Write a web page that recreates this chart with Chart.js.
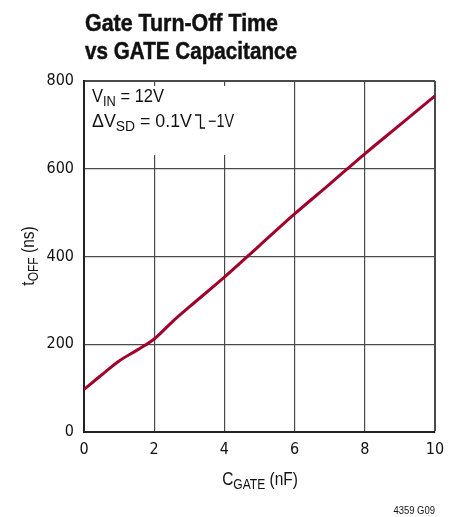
<!DOCTYPE html>
<html>
<head>
<meta charset="utf-8">
<script src="https://cdn.jsdelivr.net/npm/chart.js@4"></script>
<style>
  html, body { margin: 0; padding: 0; background: #fff; }
</style>
</head>
<body>
<canvas id="chart_div" width="460" height="517"></canvas>
<script>
  const TICKFONT = '"DejaVu Sans Condensed", "Liberation Sans", sans-serif';
  const FONT = '"Liberation Sans", Arial, sans-serif';
  const SX = 0.86; // horizontal squeeze to imitate a condensed face

  // gate capacitance (nF) and turn-off time (ns)
  const cGate = [0, 0.5, 1, 1.5, 2, 2.5, 3, 4, 5, 6, 7, 8, 9, 10];
  const tOff = [97, 130, 162, 186, 212, 250, 285, 353, 425, 497, 565, 634, 700, 766];
  const xTicks = [0, 2, 4, 6, 8, 10];
  const yTicks = [0, 200, 400, 600, 800];

  const points = cGate.map((c, i) => ({ x: c, y: tOff[i] }));

  // width of runs [text, size, dy, bold] before squeezing
  function runsWidth(ctx, parts) {
    let w = 0;
    parts.forEach(p => {
      ctx.font = (p[3] ? 'bold ' : '') + p[1] + 'px ' + FONT;
      w += ctx.measureText(p[0]).width;
    });
    return w;
  }

  // draw runs squeezed by sx, returns end x
  function runs(ctx, x, y, parts, sx, heavy) {
    sx = sx || SX;
    ctx.save();
    ctx.translate(x, y);
    ctx.scale(sx, 1);
    let cx = 0;
    parts.forEach(p => {
      ctx.font = (p[3] ? 'bold ' : '') + p[1] + 'px ' + FONT;
      ctx.fillText(p[0], cx, p[2] || 0);
      if (heavy) {
        ctx.lineWidth = heavy;
        ctx.strokeStyle = ctx.fillStyle;
        ctx.strokeText(p[0], cx, p[2] || 0);
      }
      cx += ctx.measureText(p[0]).width;
    });
    ctx.restore();
    return x + cx * sx;
  }

  const textPlugin = {
    id: 'texts',
    beforeDatasetsDraw(chart) {
      const ctx = chart.ctx;
      const a = chart.chartArea;
      // blank the grid behind the condition box
      ctx.save();
      ctx.fillStyle = '#fff';
      ctx.fillRect(a.left + 3, a.top + 5, 170, 69);
      ctx.restore();
    },
    afterDraw(chart) {
      const ctx = chart.ctx;
      ctx.save();
      ctx.fillStyle = '#111';
      ctx.textBaseline = 'alphabetic';
      ctx.textAlign = 'left';

      // title
      const t1 = [['Gate Turn-Off Time', 24, 0, true]];
      const t2 = [['vs GATE Capacitance', 24, 0, true]];
      runs(ctx, 85, 31, t1, 193 / runsWidth(ctx, t1), 0.5);
      runs(ctx, 85, 59, t2, 212 / runsWidth(ctx, t2), 0.5);

      // condition box
      const c1 = [['V', 18], ['IN', 14, 4], [' = 12V', 18]];
      const c2 = [['ΔV', 18], ['SD', 14, 4], [' = 0.1V', 18]];
      runs(ctx, 92, 102, c1, 72 / runsWidth(ctx, c1));
      const e = runs(ctx, 92, 127, c2, 100 / runsWidth(ctx, c2));
      ctx.strokeStyle = '#111';
      ctx.lineWidth = 1.3;
      ctx.beginPath();
      ctx.moveTo(e + 3, 115);
      ctx.lineTo(e + 8.5, 115);
      ctx.lineTo(e + 8.5, 128);
      ctx.lineTo(e + 13, 128);
      ctx.stroke();
      runs(ctx, e + 16, 127, [['\u22121V', 18]], 0.8);

      // x axis title
      const xt = [['C', 18], ['GATE', 14, 4], [' (nF)', 18]];
      runs(ctx, 260 - runsWidth(ctx, xt) * SX / 2, 485, xt);

      // y axis title
      const yt = [['t', 18], ['OFF', 14, 4], [' (ns)', 18]];
      ctx.translate(34, 256);
      ctx.rotate(-Math.PI / 2);
      runs(ctx, -runsWidth(ctx, yt) * SX / 2, 0, yt);
      ctx.setTransform(1, 0, 0, 1, 0, 0);

      // figure id
      const id = [['4359 G09', 11]];
      runs(ctx, 435 - runsWidth(ctx, id) * SX, 514, id);
      ctx.restore();
    }
  };

  const ctx = document.getElementById('chart_div');
  new Chart(ctx, {
    type: 'line',
    data: {
      datasets: [{
        data: points,
        borderColor: '#a0002c',
        borderWidth: 3,
        pointRadius: 0,
        cubicInterpolationMode: 'monotone',
        fill: false
      }]
    },
    options: {
      responsive: false,
      animation: false,
      layout: { padding: { top: 81, right: 25, left: 0, bottom: 0 } },
      plugins: {
        legend: { display: false },
        tooltip: { enabled: false }
      },
      scales: {
        x: {
          type: 'linear',
          min: 0,
          max: 10,
          afterFit: s => { s.height = 85; },
          afterBuildTicks: s => { s.ticks = xTicks.map(v => ({ value: v })); },
          grid: {
            color: '#4a4a4a',
            lineWidth: c => (c.tick && c.tick.value === 10 ? 2 : 1.2),
            drawTicks: false
          },
          border: { color: '#222', width: 2 },
          ticks: { color: '#111', padding: 8, font: { family: TICKFONT, size: 16 } }
        },
        y: {
          min: 0,
          max: 800,
          afterFit: s => { s.width = 84; },
          afterBuildTicks: s => { s.ticks = yTicks.map(v => ({ value: v })); },
          grid: {
            color: '#4a4a4a',
            lineWidth: c => (c.tick && c.tick.value === 800 ? 2 : 1.2),
            drawTicks: false
          },
          border: { color: '#222', width: 2 },
          ticks: { color: '#111', padding: 10, font: { family: TICKFONT, size: 16 } }
        }
      }
    },
    plugins: [textPlugin]
  });
</script>
</body>
</html>
